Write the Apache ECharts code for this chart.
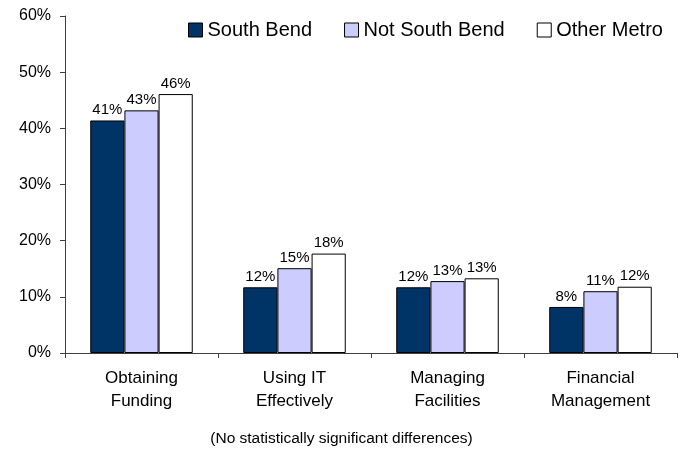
<!DOCTYPE html>
<html>
<head>
<meta charset="utf-8">
<script src="https://cdn.jsdelivr.net/npm/echarts@6/dist/echarts.min.js"></script>
<style>
html,body{margin:0;padding:0;background:#fff;}
#chart{width:683px;height:449px;}
</style>
</head>
<body>
<div id="chart"></div>
<script>
var categories = ['Obtaining\nFunding', 'Using IT\nEffectively', 'Managing\nFacilities', 'Financial\nManagement'];
var seriesNames = ['South Bend', 'Not South Bend', 'Other Metro'];
var southBend = [41.4, 11.7, 11.7, 8.2];
var notSouthBend = [43.2, 15.1, 12.8, 11.0];
var otherMetro = [46.1, 17.7, 13.3, 11.8];
var colors = ['#003366', '#CCCCFF', '#FFFFFF'];
var footnote = '(No statistically significant differences)';

var font = 'Liberation Sans, Arial, sans-serif';
var chart = echarts.init(document.getElementById('chart'), null, {renderer: 'canvas'});

function mkSeries(name, data, color) {
  return {
    name: name,
    type: 'bar',
    data: data,
    barGap: '0%',
    barCategoryGap: '33%',
    itemStyle: {color: color, borderColor: '#000', borderWidth: 1},
    label: {
      show: true, position: 'top', distance: 3,
      color: '#000', fontFamily: font, fontSize: 15,
      formatter: function (p) { return Math.round(p.value) + '%'; }
    }
  };
}

chart.setOption({
  animation: false,
  backgroundColor: '#fff',
  textStyle: {fontFamily: font},
  title: {
    text: footnote,
    left: 'center',
    top: 431,
    padding: 0,
    textStyle: {fontFamily: font, fontSize: 15.5, fontWeight: 'normal', color: '#000'}
  },
  legend: {
    data: seriesNames,
    top: 20,
    left: 188,
    padding: 0,
    itemWidth: 14,
    itemHeight: 14,
    itemGap: 32,
    icon: 'rect',
    textStyle: {fontFamily: font, fontSize: 20, color: '#000'},
    itemStyle: {borderColor: '#000', borderWidth: 1}
  },
  grid: {left: 65, right: 6, top: 16, bottom: 96, containLabel: false},
  xAxis: {
    type: 'category',
    data: categories,
    axisLine: {lineStyle: {color: '#404040', width: 1}},
    axisTick: {show: true, alignWithLabel: false, length: 5, lineStyle: {color: '#404040'}},
    axisLabel: {fontFamily: font, fontSize: 17, lineHeight: 23, color: '#000', margin: 14, interval: 0}
  },
  yAxis: {
    type: 'value',
    min: 0, max: 60, interval: 10,
    axisLine: {show: true, lineStyle: {color: '#404040', width: 1}},
    axisTick: {show: true, length: 5, lineStyle: {color: '#404040'}},
    splitLine: {show: false},
    axisLabel: {fontFamily: font, fontSize: 16, color: '#000', margin: 14, formatter: '{value}%'}
  },
  series: [
    mkSeries(seriesNames[0], southBend, colors[0]),
    mkSeries(seriesNames[1], notSouthBend, colors[1]),
    mkSeries(seriesNames[2], otherMetro, colors[2])
  ]
});
</script>
</body>
</html>
